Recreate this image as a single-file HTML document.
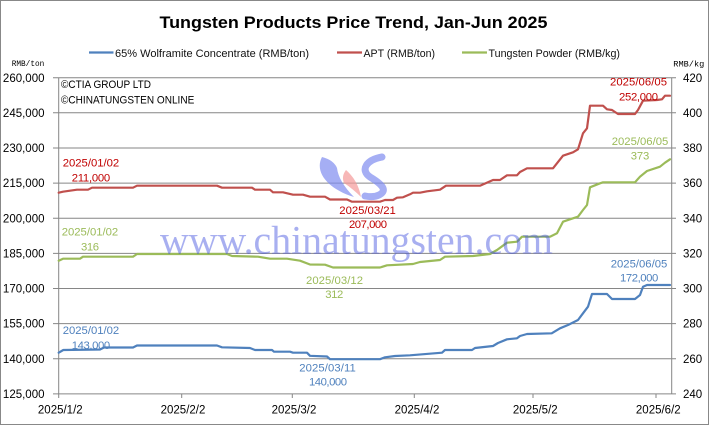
<!DOCTYPE html>
<html><head><meta charset="utf-8"><style>
html,body{margin:0;padding:0;background:#fff;}
svg{display:block;}
text{font-family:"Liberation Sans",sans-serif;}
</style></head><body>
<svg width="710" height="426" viewBox="0 0 710 426" xmlns="http://www.w3.org/2000/svg">
<rect x="0" y="0" width="710" height="426" fill="#fff"/>
<rect x="0.5" y="0.5" width="708" height="424" fill="none" stroke="#888" stroke-width="1"/>

<text x="353.5" y="28" text-anchor="middle" font-size="16.8" font-weight="bold" textLength="388" lengthAdjust="spacingAndGlyphs" fill="#000">Tungsten Products Price Trend, Jan-Jun 2025</text>

<!-- legend -->
<line x1="89" y1="52.5" x2="113.5" y2="52.5" stroke="#4F81BD" stroke-width="2.2"/>
<text x="115" y="57" font-size="11" textLength="194" lengthAdjust="spacingAndGlyphs" fill="#111">65% Wolframite Concentrate (RMB/ton)</text>
<line x1="337" y1="52.5" x2="362" y2="52.5" stroke="#C0504D" stroke-width="2.2"/>
<text x="363.5" y="57" font-size="11" textLength="71.5" lengthAdjust="spacingAndGlyphs" fill="#111">APT (RMB/ton)</text>
<line x1="462" y1="52.5" x2="487" y2="52.5" stroke="#9BBB59" stroke-width="2.2"/>
<text x="488.5" y="57" font-size="11" textLength="131.5" lengthAdjust="spacingAndGlyphs" fill="#111">Tungsten Powder (RMB/kg)</text>

<text x="11.7" y="66" font-size="8" textLength="32.6" lengthAdjust="spacingAndGlyphs" fill="#000" style="font-family:'Liberation Mono',monospace">RMB/ton</text>
<text x="673.3" y="66.5" font-size="8" textLength="31" lengthAdjust="spacingAndGlyphs" fill="#000" style="font-family:'Liberation Mono',monospace">RMB/kg</text>

<!-- gridlines -->
<g stroke="#868686" stroke-width="1">
<line x1="53" y1="77.7" x2="676" y2="77.7"/>
<line x1="53" y1="112.8" x2="676" y2="112.8"/>
<line x1="53" y1="148" x2="676" y2="148"/>
<line x1="53" y1="183.1" x2="676" y2="183.1"/>
<line x1="53" y1="218.2" x2="676" y2="218.2"/>
<line x1="53" y1="253.4" x2="676" y2="253.4"/>
<line x1="53" y1="288.5" x2="676" y2="288.5"/>
<line x1="53" y1="323.6" x2="676" y2="323.6"/>
<line x1="53" y1="358.8" x2="676" y2="358.8"/>
<line x1="53" y1="393.9" x2="676" y2="393.9"/>
<line x1="58.7" y1="77.7" x2="58.7" y2="398"/>
<line x1="671.7" y1="77.7" x2="671.7" y2="394"/>
<line x1="181.7" y1="394" x2="181.7" y2="398"/>
<line x1="292.3" y1="394" x2="292.3" y2="398"/>
<line x1="414.3" y1="394" x2="414.3" y2="398"/>
<line x1="533" y1="394" x2="533" y2="398"/>
<line x1="656" y1="394" x2="656" y2="398"/>
</g>

<!-- left tick labels -->
<g font-size="11.5" fill="#000" text-anchor="end">
<text x="44.5" y="81.8">260,000</text>
<text x="44.5" y="116.9">245,000</text>
<text x="44.5" y="152.1">230,000</text>
<text x="44.5" y="187.2">215,000</text>
<text x="44.5" y="222.3">200,000</text>
<text x="44.5" y="257.5">185,000</text>
<text x="44.5" y="292.6">170,000</text>
<text x="44.5" y="327.7">155,000</text>
<text x="44.5" y="362.9">140,000</text>
<text x="44.5" y="398">125,000</text>
</g>
<g font-size="11.5" fill="#000">
<text x="683" y="81.8">420</text>
<text x="683" y="116.9">400</text>
<text x="683" y="152.1">380</text>
<text x="683" y="187.2">360</text>
<text x="683" y="222.3">340</text>
<text x="683" y="257.5">320</text>
<text x="683" y="292.6">300</text>
<text x="683" y="327.7">280</text>
<text x="683" y="362.9">260</text>
<text x="683" y="398">240</text>
</g>
<g font-size="11.5" fill="#000" text-anchor="middle">
<text x="60.3" y="413.5">2025/1/2</text>
<text x="183" y="413.5">2025/2/2</text>
<text x="294" y="413.5">2025/3/2</text>
<text x="417" y="413.5">2025/4/2</text>
<text x="535.3" y="413.5">2025/5/2</text>
<text x="658.3" y="413.5">2025/6/2</text>
</g>

<!-- copyright -->
<text x="61" y="88" font-size="11" fill="#000" textLength="90" lengthAdjust="spacingAndGlyphs">©CTIA GROUP LTD</text>
<text x="61" y="103.3" font-size="11" fill="#000" textLength="133.3" lengthAdjust="spacingAndGlyphs">©CHINATUNGSTEN ONLINE</text>

<!-- watermark logo (behind lines) -->
<g opacity="0.7">
<path d="M322,157 C314,172 328,189 354,197 C344,187 338,177 337,168 C335,163 330,159 322,157 Z" fill="#7f8cf0"/>
<path d="M346,170 C353,176 359,185 361,197 C356,192 350,187 344,183 C342,178 343,174 346,170 Z" fill="#f49a9a"/>
<path d="M382,157 C366,160 360,170 370,177 C380,183 389,190 379,195 C375,197 370,197 365,196" fill="none" stroke="#7f8cf0" stroke-width="7" stroke-linecap="round"/>
</g>

<!-- series -->
<g fill="none" stroke-width="2.2" stroke-linejoin="round" stroke-linecap="round">
<polyline stroke="#4F81BD" points="58.7,352.7 63.3,350 100,349.5 104,347.5 133,347.5 137,345.5 217,345.5 222,347.3 250,348 255,350 272,350 274,351.7 290,351.7 293,352.7 307,352.7 310,355.8 327,356.5 330,359.2 380,359.2 385,357.3 395,356 410,355.3 442,352.7 445,350 472,350 475,348 493,346 498,343 507,339.3 517,338.3 520,336 527,334 551.7,333.3 560,328.3 568,325 578,320 583,313.3 588,306.7 592,294 607,294 612,299 635,299 640,295 643,286.7 647,285 670,285"/>
<polyline stroke="#C0504D" points="58.7,192.7 63,191.7 77,189.7 88,189.7 92,187.7 133,187.7 137,185.7 217,185.7 222,187.7 252,187.7 255,189.7 270,189.7 273,192.3 283,192.3 293,194.7 303,194.7 310,196.7 325,196.7 330,199.5 347,199.5 352,201.7 380,201.7 385,200 393,200 397,197.7 403,197.3 410,194.3 413,192.7 420,192.7 427,191.3 440,189.7 446,185.7 480,185.7 493,180 500,180 507,175.3 517,175.3 520,172 527,168.3 553,168.3 563,155.7 573,152.3 578,149.3 583,133.3 587,128.3 590,105.7 603,105.7 607,109.3 612,110 618,114 635,114 638,110 643,100.7 657,100 662,99.3 665,95.7 670,95.7"/>
<polyline stroke="#9BBB59" points="58.7,260.7 63,258.7 80,258.7 83,256.7 133,256.7 137,254 227,254 232,256 258,256.7 270,258.7 287,258.7 300,260.7 310,264.5 325,264.7 333,267.5 380,267.5 387,265.3 413,264 420,262 440,260 445,256.7 473,256 490,254 497,250 507,242.7 517,241.7 522,236.7 550,236.7 557,233.3 563,221.7 573,218.3 578,216.7 583,210 587,205 590,187.3 600,183.3 603,182.3 635,182.3 640,176.7 647,171 660,166.7 665,162.7 670,159.3"/>
</g>

<!-- data labels -->
<g font-size="11.3" lengthAdjust="spacingAndGlyphs">
<text x="62.7" y="166.3" fill="#C00000" textLength="56.5">2025/01/02</text>
<text x="71.7" y="181.3" fill="#C00000" textLength="38.5">211,000</text>
<text x="61.7" y="235.7" fill="#9BBB59" textLength="56.5">2025/01/02</text>
<text x="81" y="250.7" fill="#9BBB59" textLength="18">316</text>
<text x="62.7" y="334" fill="#4F81BD" textLength="56.5">2025/01/02</text>
<text x="71.7" y="349" fill="#4F81BD" textLength="38.5">143,000</text>
<text x="299.3" y="371.7" fill="#4F81BD" textLength="56.5">2025/03/11</text>
<text x="309" y="385.7" fill="#4F81BD" textLength="38">140,000</text>
<text x="306" y="284" fill="#9BBB59" textLength="57">2025/03/12</text>
<text x="325.3" y="298" fill="#9BBB59" textLength="18">312</text>
<text x="339.3" y="214" fill="#C00000" textLength="56.5">2025/03/21</text>
<text x="349" y="228" fill="#C00000" textLength="38">207,000</text>
<text x="610" y="85.7" fill="#C00000" textLength="57">2025/06/05</text>
<text x="619" y="100.7" fill="#C00000" textLength="39">252,000</text>
<text x="611.7" y="145" fill="#9BBB59" textLength="56.6">2025/06/05</text>
<text x="630.7" y="159.7" fill="#9BBB59" textLength="18.6">373</text>
<text x="610.7" y="267.3" fill="#4F81BD" textLength="56.6">2025/06/05</text>
<text x="620" y="281.7" fill="#4F81BD" textLength="38.3">172,000</text>
</g>

<!-- watermark text -->
<text x="160" y="253.3" font-size="40" textLength="393" lengthAdjust="spacingAndGlyphs" fill="#4050e0" opacity="0.45" style="font-family:'Liberation Serif',serif">www.chinatungsten.com</text>
</svg>
</body></html>
